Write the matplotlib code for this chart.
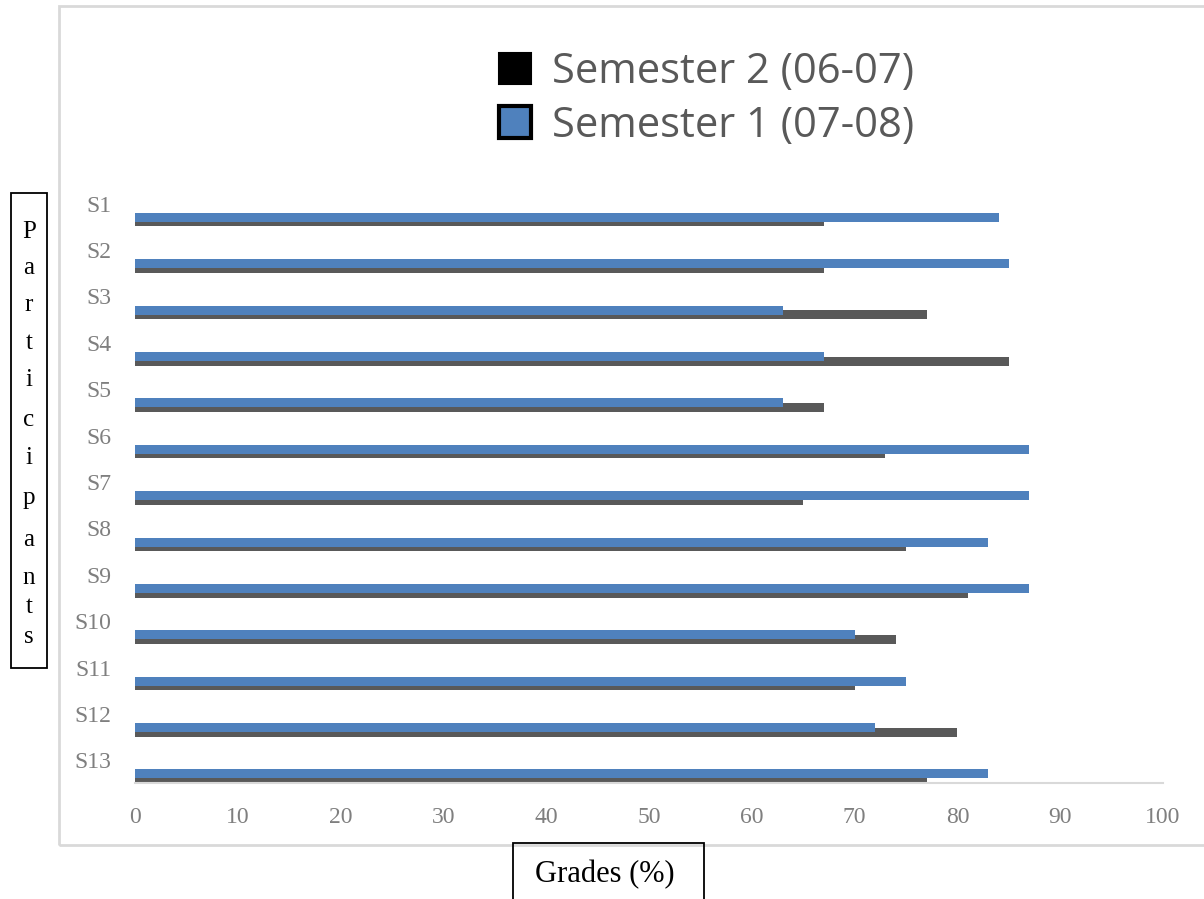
import matplotlib
matplotlib.use("Agg")
import matplotlib.pyplot as plt
from matplotlib.patches import Rectangle, Patch
from matplotlib.transforms import ScaledTranslation

participants = ["S1", "S2", "S3", "S4", "S5", "S6", "S7", "S8", "S9", "S10", "S11", "S12", "S13"]
sem2_0607 = [67, 67, 77, 85, 67, 73, 65, 75, 81, 74, 70, 80, 77]
sem1_0708 = [84, 85, 63, 67, 63, 87, 87, 83, 87, 70, 75, 72, 83]
x_ticks = [0, 10, 20, 30, 40, 50, 60, 70, 80, 90, 100]
legend_labels = ["Semester 2 (06-07)", "Semester 1 (07-08)"]

W, H = 1204, 899
fig = plt.figure(figsize=(W / 100, H / 100), dpi=100)

def fx(px):
    return px / W

def fy(py):
    return 1 - py / H

# outer chart frame
fig.patches.append(Rectangle((fx(59), fy(845)), fx(1204 + 10 - 59), fy(6) - fy(845),
                             transform=fig.transFigure, fill=False,
                             edgecolor="#d9d9d9", linewidth=2, zorder=0))

# axes: x 0 -> px 135, 100 -> px 1163 ; category pitch 46.4 px, S1 center at 219.5
pitch = 46.4
c0 = 219.5
ax_bottom_px = 783
ax_top_px = 187
ylim_bottom = (ax_bottom_px - c0) / pitch
ylim_top = (ax_top_px - c0) / pitch
ax = fig.add_axes([fx(135), fy(ax_bottom_px), fx(1163) - fx(135), fy(ax_top_px) - fy(ax_bottom_px)])
ax.set_xlim(0, 100)
ax.set_ylim(ylim_bottom, ylim_top)

pos = list(range(len(participants)))
bar_h = 9 / pitch
off = 2.3 / pitch
ax.barh([p + off for p in pos], sem2_0607, height=bar_h, color="#595959", zorder=2)
ax.barh([p - off for p in pos], sem1_0708, height=bar_h, color="#4f81bd", zorder=3)

for s in ["top", "right", "left"]:
    ax.spines[s].set_visible(False)
ax.spines["bottom"].set_color("#d9d9d9")
ax.spines["bottom"].set_linewidth(1.5)

ax.set_xticks(x_ticks)
ax.set_xticklabels([str(t) for t in x_ticks], fontsize=17, family="Liberation Serif", color="#7f7f7f")
ax.tick_params(axis="x", length=0, pad=17)
ax.set_yticks(pos)
ax.set_yticklabels(participants, fontsize=17, family="Liberation Serif", color="#7f7f7f")
ax.tick_params(axis="y", length=0, pad=17)
shift = ScaledTranslation(0, 0.16, fig.dpi_scale_trans)
for lab in ax.get_yticklabels():
    lab.set_transform(lab.get_transform() + shift)

# legend
handles = [Patch(facecolor="black", edgecolor="black", linewidth=1.5),
           Patch(facecolor="#4f81bd", edgecolor="black", linewidth=3)]
leg = fig.legend(handles, legend_labels, loc="upper left",
                 bbox_to_anchor=(fx(478), fy(30)), frameon=False,
                 prop={"family": "Open Sans", "size": 30}, labelcolor="#595959",
                 handlelength=0.78, handleheight=0.78, handletextpad=0.5,
                 labelspacing=0.28, borderpad=0)

# Participants box
fig.patches.append(Rectangle((fx(11), fy(668)), fx(47) - fx(11), fy(193) - fy(668),
                             transform=fig.transFigure, fill=False,
                             edgecolor="black", linewidth=1.3, zorder=5))
word = "Participants"
ys = [232, 268, 305, 343, 380, 420, 458, 498, 540, 578, 607, 637]
for ch, yy in zip(word, ys):
    fig.text(fx(29), fy(yy), ch, ha="center", va="center",
             family="Liberation Serif", fontsize=18, color="black")

# Grades box
fig.patches.append(Rectangle((fx(513), fy(905)), fx(704) - fx(513), fy(843) - fy(905),
                             transform=fig.transFigure, fill=False,
                             edgecolor="black", linewidth=1.3, zorder=5, clip_on=False))
fig.text(fx(605), fy(875), "Grades (%)", ha="center", va="center",
         family="Liberation Serif", fontsize=22, color="black")

fig.savefig("out.png", dpi=100)
